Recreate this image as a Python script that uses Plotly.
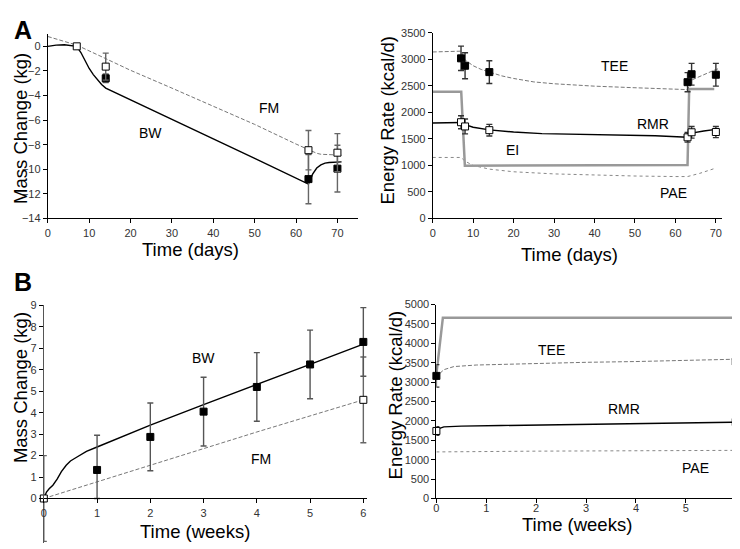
import plotly.graph_objects as go

# ---- Panel A (days) : mass change ----
a_bw_t = [0, 2, 4, 6, 7, 8, 9, 10, 11, 12, 13, 14, 15.6, 20, 30, 40, 50, 60, 63, 64, 65, 66, 67, 68, 70, 71]
a_bw = [0, 0.1, 0.13, 0.08, 0, -0.5, -1.15, -1.8, -2.3, -2.75, -3.1, -3.4, -3.65, -4.35, -5.94, -7.53,
        -9.12, -10.72, -11.2, -10.4, -9.9, -9.65, -9.5, -9.45, -9.4, -9.4]
a_fm_t = [0, 7, 14, 20, 30, 40, 50, 60, 63, 64, 65, 66, 68, 70, 71]
a_fm = [0.8, 0.1, -1.0, -1.95, -3.4, -4.85, -6.35, -7.95, -8.4, -8.6, -8.7, -8.78, -8.83, -8.85, -8.85]

a_bw_obs_t = [14, 63, 70]
a_bw_obs = [-2.6, -10.8, -9.95]
a_bw_obs_err = [0.35, 2.0, 1.9]
a_fm_obs_t = [7, 14, 63, 70]
a_fm_obs = [0.0, -1.65, -8.45, -8.65]
a_fm_obs_err = [0, 1.1, 1.6, 1.55]

# ---- Panel A (days) : energy ----
a_tee_t = [0, 3, 7, 8, 10, 12, 14, 17, 20, 25, 30, 40, 50, 60, 63, 64, 66, 68, 70, 71]
a_tee = [3140, 3150, 3155, 2990, 2880, 2810, 2760, 2690, 2640, 2575, 2540, 2495, 2465, 2440, 2430,
         2610, 2680, 2750, 2810, 2830]
a_rmr_t = [0, 7, 8, 10, 14, 20, 27, 35, 46, 55, 63, 64, 67, 70]
a_rmr = [1800, 1810, 1770, 1720, 1670, 1630, 1600, 1590, 1580, 1560, 1530, 1610, 1650, 1680]
a_ei_t = [0, 7.05, 7.95, 63.0, 63.4, 69.6]
a_ei = [2390, 2390, 995, 1010, 2440, 2440]
a_pae_t = [0, 7, 8, 10, 14, 20, 30, 40, 50, 60, 63, 66, 70]
a_pae = [1150, 1150, 1080, 1000, 930, 880, 840, 815, 800, 790, 790, 850, 950]

a_tee_obs_t = [7, 8, 14, 63, 64, 70]
a_tee_obs = [3020, 2880, 2760, 2570, 2720, 2710]
a_tee_obs_err = [230, 245, 215, 180, 205, 215]
a_rmr_obs_t = [7, 8, 14, 63, 64, 70]
a_rmr_obs = [1815, 1735, 1665, 1530, 1625, 1630]
a_rmr_obs_err = [122, 140, 110, 90, 110, 105]

# ---- Panel B (weeks) : mass change ----
b_bw_t = [0, 0.05, 0.1, 0.17, 0.25, 0.33, 0.42, 0.5, 0.6, 0.8, 1, 1.66, 2, 3, 4, 5, 6]
b_bw = [0, 0.3, 0.45, 0.62, 0.9, 1.25, 1.55, 1.75, 1.9, 2.2, 2.4, 3.07, 3.42, 4.38, 5.3, 6.25, 7.2]
b_fm_t = [0, 1, 2, 3, 4, 5, 6]
b_fm = [0, 0.78, 1.55, 2.33, 3.1, 3.85, 4.6]

b_bw_obs_t = [1, 2, 3, 4, 5, 6]
b_bw_obs = [1.33, 2.87, 4.05, 5.2, 6.25, 7.3]
b_bw_obs_err = [1.62, 1.58, 1.6, 1.6, 1.6, 1.6]
b_bw_obs_errminus = [1.33, 1.58, 1.6, 1.6, 1.6, 1.6]
b_fm_obs_t = [0, 6]
b_fm_obs = [0, 4.6]
b_fm_obs_err = [2.0, 2.0]

# ---- Panel B (weeks) : energy ----
b_ei_t = [0, 0.13, 6]
b_ei = [3200, 4660, 4660]
b_tee_t = [0, 0.05, 0.15, 0.35, 0.8, 1.3, 2, 3, 4, 5, 6]
b_tee = [3100, 3200, 3320, 3400, 3440, 3460, 3480, 3510, 3530, 3560, 3590]
b_rmr_t = [0, 0.05, 0.15, 0.5, 1.3, 2, 3, 4, 5, 6]
b_rmr = [1750, 1800, 1845, 1865, 1880, 1895, 1910, 1925, 1945, 1965]
b_pae_t = [0, 0.5, 1, 2, 3, 4, 5, 6]
b_pae = [1200, 1210, 1215, 1220, 1225, 1230, 1235, 1240]

b_tee_obs_t = [0, 6]
b_tee_obs = [3160, 3530]
b_tee_obs_err = [290, 370]
b_rmr_obs_t = [0, 6]
b_rmr_obs = [1740, 1970]
b_rmr_obs_err = [110, 0]

W, H = 740, 549
OFF = 8  # page body margin
FONT = "Liberation Sans, Arial, sans-serif"


def px(x):
    return (x - OFF) / W


def py(y):
    return 1 - (y - OFF) / H


fig = go.Figure()


def line(x, y, ax, color, width, dash="solid"):
    fig.add_trace(go.Scatter(x=x, y=y, mode="lines", xaxis=ax[0], yaxis=ax[1],
                             line=dict(color=color, width=width, dash=dash),
                             showlegend=False, hoverinfo="skip"))


def obs(x, y, err, ax, filled, ecolor="#666", errminus=None):
    ey = dict(type="data", array=err, visible=True, color=ecolor, thickness=1.4, width=3)
    if errminus is not None:
        ey["arrayminus"] = errminus
    fig.add_trace(go.Scatter(
        x=x, y=y, mode="markers", xaxis=ax[0], yaxis=ax[1], cliponaxis=False,
        marker=dict(symbol="square", size=7,
                    color="black" if filled else "white",
                    line=dict(color="black", width=1)),
        error_y=ey, showlegend=False))


AL = ("x", "y")
AR = ("x2", "y2")
BL = ("x3", "y3")
BR = ("x4", "y4")

GRAY_DASH = "#777"

# A left
line(a_fm_t, a_fm, AL, GRAY_DASH, 1, "4px,2px")
line(a_bw_t, a_bw, AL, "black", 1.4)
obs(a_bw_obs_t, a_bw_obs, a_bw_obs_err, AL, True)
obs(a_fm_obs_t, a_fm_obs, a_fm_obs_err, AL, False)

# A right
line(a_pae_t, a_pae, AR, "#888", 1, "dot")
line(a_ei_t, a_ei, AR, "#999", 2.5)
line(a_tee_t, a_tee, AR, GRAY_DASH, 1, "4px,2px")
line(a_rmr_t, a_rmr, AR, "black", 1.4)
obs(a_tee_obs_t, a_tee_obs, a_tee_obs_err, AR, True, "#333")
obs(a_rmr_obs_t, a_rmr_obs, a_rmr_obs_err, AR, False, "#333")

# B left
line(b_fm_t, b_fm, BL, GRAY_DASH, 1, "4px,2px")
line(b_bw_t, b_bw, BL, "black", 1.4)
obs(b_fm_obs_t, b_fm_obs, b_fm_obs_err, BL, False, "#666")
obs(b_bw_obs_t, b_bw_obs, b_bw_obs_err, BL, True, "#555", b_bw_obs_errminus)

# B right
line(b_pae_t, b_pae, BR, "#888", 1, "dot")
line(b_ei_t, b_ei, BR, "#999", 2.5)
line(b_tee_t, b_tee, BR, GRAY_DASH, 1, "4px,2px")
line(b_rmr_t, b_rmr, BR, "black", 1.4)
obs(b_tee_obs_t, b_tee_obs, b_tee_obs_err, BR, True, "#333")
obs(b_rmr_obs_t, b_rmr_obs, b_rmr_obs_err, BR, False, "#333")


def xax(dom, rng, dtick, anchor):
    return dict(domain=dom, range=rng, dtick=dtick, tick0=0, anchor=anchor,
                showline=True, linecolor="black", linewidth=1, ticks="outside",
                ticklen=4, tickcolor="black", showgrid=False, zeroline=False,
                tickfont=dict(family=FONT, size=11, color="#333"))


def yax(dom, rng, dtick, anchor):
    return dict(domain=dom, range=rng, dtick=dtick, anchor=anchor,
                showline=True, linecolor="black", linewidth=1, ticks="outside",
                ticklen=4, tickcolor="black", showgrid=False, zeroline=False,
                tickfont=dict(family=FONT, size=11, color="#333"))


# B left: y axis continues below the x axis (as in the original)
bl_zero, bl_top, bl_bottom = 503.3, 306, 549
bl_unit = (bl_zero - bl_top) / 9
bl_ymin = -(bl_bottom - bl_zero) / bl_unit

xaxis3 = xax([px(41), px(366)], [0, 6.07], 1, "free")
xaxis3["position"] = py(bl_zero)
yaxis3 = yax([py(bl_bottom), py(bl_top)], [bl_ymin, 9], 1, "x3")
yaxis3["tickvals"] = list(range(0, 10))
yaxis3["linecolor"] = "#555"

xaxis4 = xax([px(435.7), px(739)], [0, 6.046], 1, "y4")
xaxis4["ticklabelstandoff"] = -5

fig.update_layout(
    width=W, height=H, margin=dict(l=0, r=0, t=0, b=0),
    paper_bgcolor="white", plot_bgcolor="white", showlegend=False,
    xaxis=xax([px(45), px(357)], [0, 75], 10, "y"),
    yaxis=dict(yax([py(217), py(28.5)], [-14, 1], 2, "x"), tickvals=list(range(-14, 1, 2))),
    xaxis2=xax([px(432), px(723)], [0, 71.55], 10, "y2"),
    yaxis2=yax([py(217), py(27.3)], [0, 3500], 500, "x2"),
    xaxis3=xaxis3,
    yaxis3=yaxis3,
    xaxis4=xaxis4,
    yaxis4=yax([py(503.3), py(305)], [0, 5000], 500, "x4"),
)

# axis titles
titles = [
    ("Mass Change (kg)", 17.5, 125, -90),
    ("Time (days)", 188, 249, 0),
    ("Energy Rate (kcal/d)", 387, 116, -90),
    ("Time (days)", 570, 254, 0),
    ("Mass Change (kg)", 17.5, 390, -90),
    ("Time (weeks)", 193, 537, 0),
    ("Energy Rate (kcal/d)", 395, 397, -90),
    ("Time (weeks)", 577, 530, 0),
]
for text, x, y, ang in titles:
    fig.add_annotation(text=text, xref="paper", yref="paper", x=px(x), y=py(y),
                       xanchor="center", yanchor="middle", showarrow=False, textangle=ang,
                       font=dict(family=FONT, size=18.5, color="black"))

# panel letters, kept inside the page
for text, y in [("<b>A</b>", 8), ("<b>B</b>", 266)]:
    fig.add_annotation(text=text, xref="paper", yref="paper", x=px(9), y=py(y),
                       xanchor="left", yanchor="top", showarrow=False,
                       font=dict(family=FONT, size=25, color="black"))

labels = [
    ("FM", 53.5, -5.05, "x", "y"),
    ("BW", 24.9, -7.04, "x", "y"),
    ("TEE", 45, 2877, "x2", "y2"),
    ("RMR", 54.4, 1774, "x2", "y2"),
    ("EI", 19.8, 1294, "x2", "y2"),
    ("PAE", 59.5, 480, "x2", "y2"),
    ("BW", 2.99, 6.53, "x3", "y3"),
    ("FM", 4.08, 1.85, "x3", "y3"),
    ("EI", 0.85, 5059, "x4", "y4"),
    ("TEE", 2.31, 3840, "x4", "y4"),
    ("RMR", 3.77, 2319, "x4", "y4"),
    ("PAE", 5.2, 798, "x4", "y4"),
]
for text, x, y, xr, yr in labels:
    fig.add_annotation(text=text, x=x, y=y, xref=xr, yref=yr, showarrow=False,
                       xanchor="center", yanchor="middle",
                       font=dict(family=FONT, size=14, color="black"))

fig.write_html("out.html")
